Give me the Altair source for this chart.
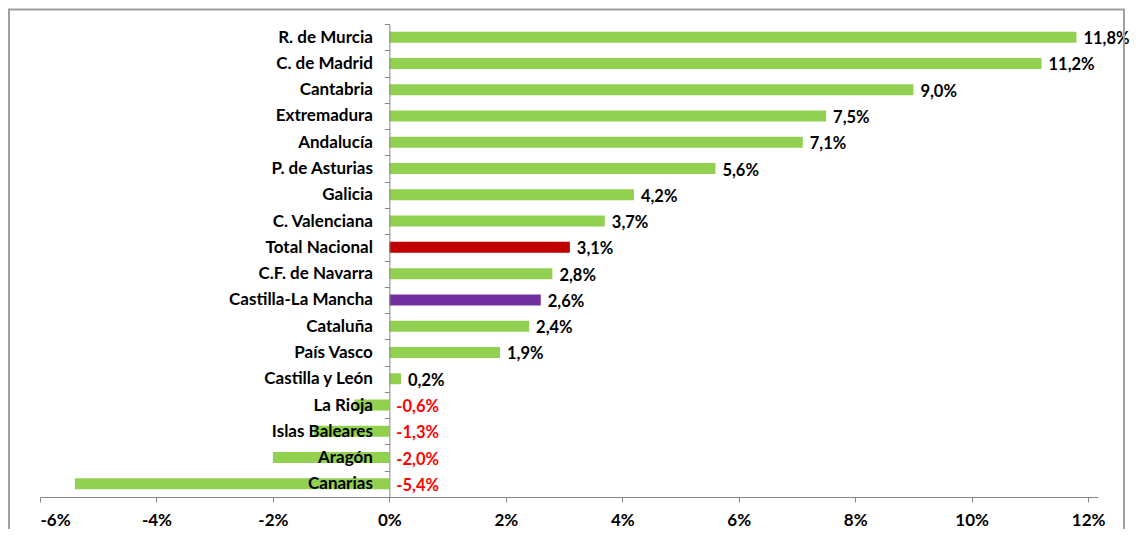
import altair as alt
import pandas as pd

regions = ["R. de Murcia", "C. de Madrid", "Cantabria", "Extremadura", "Andalucía",
           "P. de Asturias", "Galicia", "C. Valenciana", "Total Nacional", "C.F. de Navarra",
           "Castilla-La Mancha", "Cataluña", "País Vasco", "Castilla y León", "La Rioja",
           "Islas Baleares", "Aragón", "Canarias"]
values = [11.8, 11.2, 9.0, 7.5, 7.1, 5.6, 4.2, 3.7, 3.1, 2.8, 2.6, 2.4, 1.9, 0.2,
          -0.6, -1.3, -2.0, -5.4]
special_colors = {"Total Nacional": "#C00000", "Castilla-La Mancha": "#7030A0"}
x_ticks = [-6, -4, -2, 0, 2, 4, 6, 8, 10, 12]

df = pd.DataFrame({"region": regions, "value": values})
df["pos"] = df["value"].clip(lower=0)
df["label"] = df["value"].map(lambda v: f"{v:.1f}".replace(".", ",") + "%")
df["barcolor"] = df["region"].map(lambda r: special_colors.get(r, "#92D050"))
df["textcolor"] = df["value"].map(lambda v: "#FF0000" if v < 0 else "#000000")

W = 1058
H = 473
dom = [-6, 12.17]
zero_px = (0 - dom[0]) / (dom[1] - dom[0]) * W

FONT = "Lato"
AX = "#868686"
FS = 17
BORDER = "#a0a0a0"

y_enc = alt.Y(
    "region:N",
    sort=regions,
    scale=alt.Scale(paddingInner=0, paddingOuter=0),
    axis=alt.Axis(
        title=None,
        offset=-zero_px,
        tickBand="extent",
        tickSize=5,
        tickColor=AX,
        domainColor=AX,
        labelFont=FONT,
        labelFontSize=FS,
        labelFontWeight="bold",
        labelColor="#000000",
        labelPadding=12,
        zindex=1,
    ),
)

x_axis = alt.Axis(
    title=None,
    values=x_ticks,
    labelExpr="datum.value + '%'",
    grid=False,
    tickSize=5,
    tickColor=AX,
    domainColor=AX,
    labelFont=FONT,
    labelFontSize=FS,
    labelFontWeight="bold",
    labelColor="#000000",
    labelPadding=10,
)

base = alt.Chart(df).encode(y=y_enc)

bars = base.mark_bar(size=11).encode(
    x=alt.X("value:Q", scale=alt.Scale(domain=dom, nice=False, zero=False), axis=x_axis),
    x2=alt.datum(0),
    color=alt.Color("barcolor:N", scale=None),
)

labels = base.mark_text(align="left", baseline="middle", dx=7, dy=2,
                        font=FONT, fontSize=16.5, fontWeight="bold").encode(
    x=alt.X("pos:Q"),
    text="label:N",
    color=alt.Color("textcolor:N", scale=None),
)

one = pd.DataFrame({"a": [0]})
border = alt.Chart(one).mark_rect(
    fillOpacity=0, stroke=BORDER, strokeWidth=2
).encode(
    x=alt.value(-31), x2=alt.value(W + 26), y=alt.value(-14.5), y2=alt.value(H + 60)
)

chart = alt.layer(bars, labels, border).properties(
    width=W, height=H,
    autosize=alt.AutoSizeParams(type="none"),
    padding={"left": 32, "top": 16, "right": 33, "bottom": 32},
).configure_view(strokeWidth=0)

chart.save("out.html", embed_options={"renderer": "svg", "actions": False})
